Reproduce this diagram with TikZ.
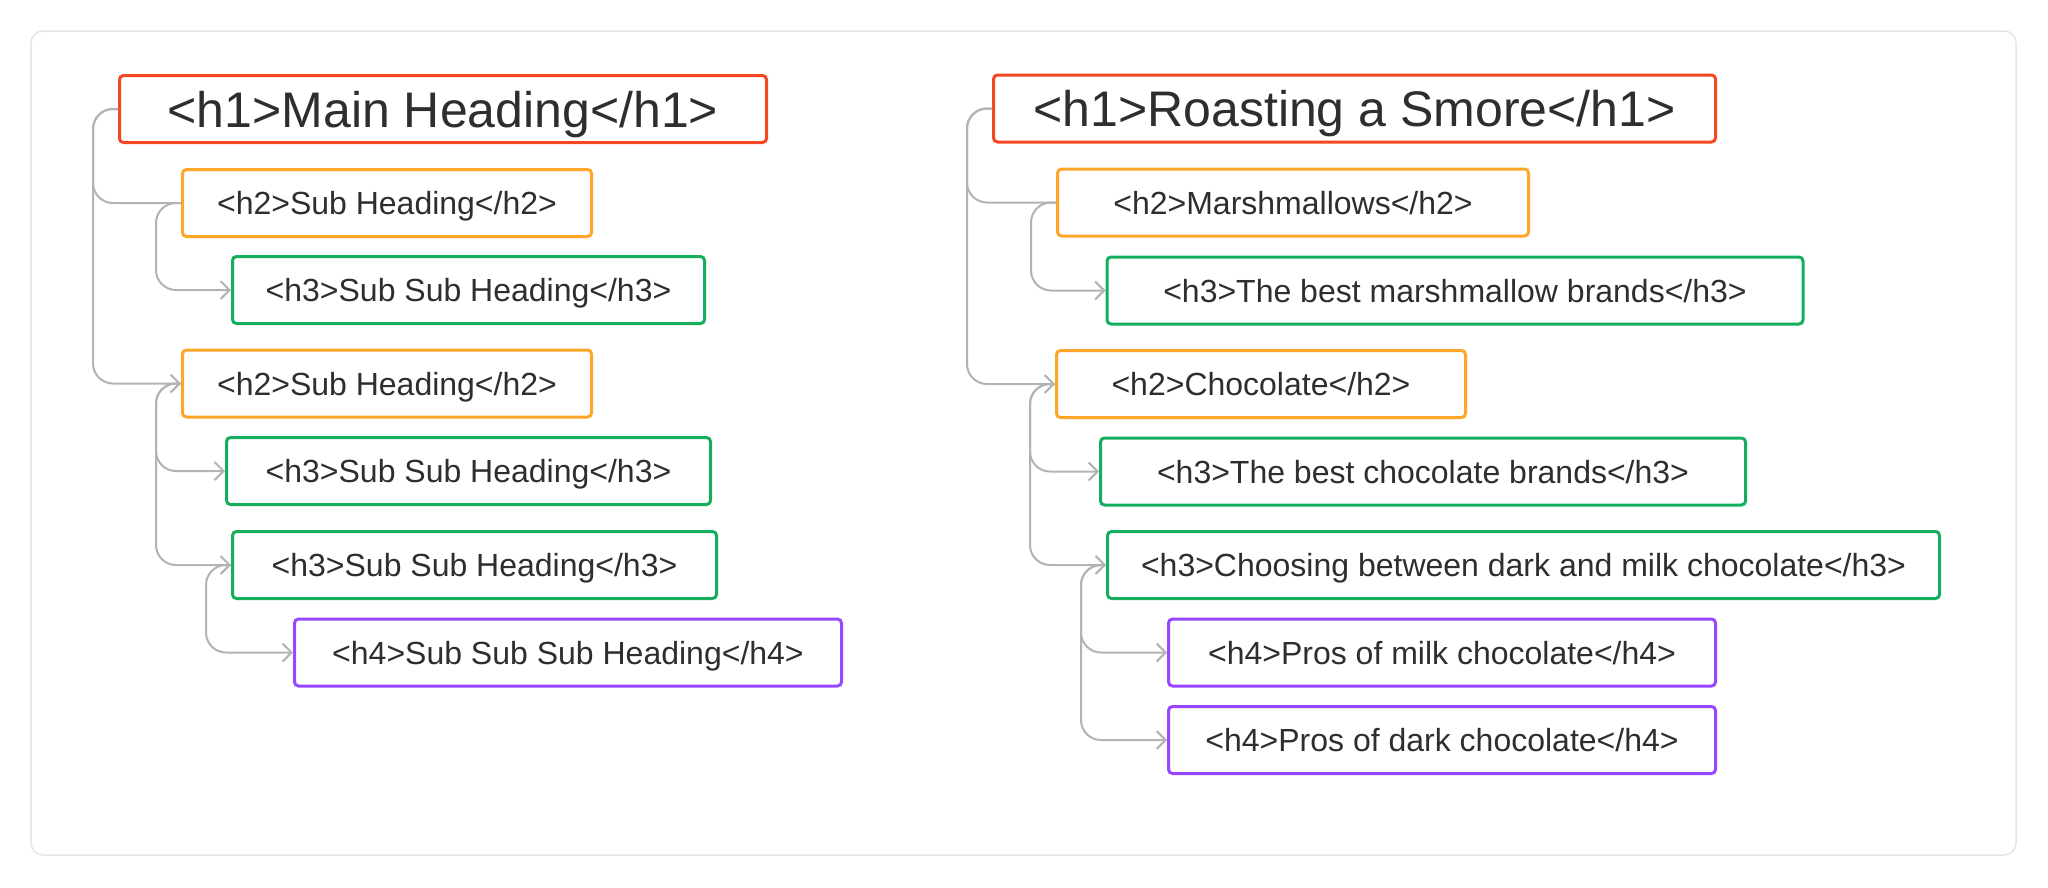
\documentclass[tikz,border=0pt]{standalone}
\usepackage{fontspec}
\setmainfont{Liberation Sans}
\usetikzlibrary{arrows.meta}
\definecolor{hred}{HTML}{F24822}
\definecolor{horange}{HTML}{FFA629}
\definecolor{hgreen}{HTML}{14AE5C}
\definecolor{hpurple}{HTML}{9747FF}
\definecolor{conngray}{HTML}{B3B3B3}
\definecolor{framegray}{HTML}{E6E6E6}
\definecolor{txt}{HTML}{2E2E2E}
\tikzset{
  hbox/.style={draw, line width=3pt, rounded corners=4pt, inner sep=0pt, minimum height=67pt, text=txt, fill=white},
  hone/.style={hbox, draw=hred, font=\fontsize{50}{60}\selectfont, text height=36pt, text depth=0pt},
  hsmall/.style={hbox, font=\fontsize{32}{38}\selectfont, text height=23pt, text depth=0pt},
  htwo/.style={hsmall, draw=horange},
  hthree/.style={hsmall, draw=hgreen},
  hfour/.style={hsmall, draw=hpurple},
  conn/.style={draw=conngray, line width=2pt, rounded corners=20pt},
  conna/.style={conn, -{Straight Barb[length=9pt,width=18pt]}},
}
\begin{document}
\begin{tikzpicture}[x=1pt,y=-1pt]
\useasboundingbox (0,0) rectangle (2048,887);
\fill[white] (0,0) rectangle (2048,887);
\draw[framegray, line width=1.5pt, rounded corners=12pt] (31,31) rectangle (2016,855);

% left column
\node[hone, minimum width=647pt] (L1) at (443,109) {<h1>Main Heading</h1>};
\node[htwo, minimum width=409pt] (L2a) at (387,203) {<h2>Sub Heading</h2>};
\node[hthree, minimum width=472pt] (L3a) at (468.5,290) {<h3>Sub Sub Heading</h3>};
\node[htwo, minimum width=409pt] (L2b) at (387,383.5) {<h2>Sub Heading</h2>};
\node[hthree, minimum width=484pt] (L3b) at (468.5,471) {<h3>Sub Sub Heading</h3>};
\node[hthree, minimum width=484pt] (L3c) at (474.5,565) {<h3>Sub Sub Heading</h3>};
\node[hfour, minimum width=547pt] (L4) at (568,652.5) {<h4>Sub Sub Sub Heading</h4>};

% right column
\node[hone, minimum width=722pt] (R1) at (1354.5,108.5) {<h1>Roasting a Smore</h1>};
\node[htwo, minimum width=471pt] (R2a) at (1293,202.5) {<h2>Marshmallows</h2>};
\node[hthree, minimum width=696pt] (R3a) at (1455,290.5) {<h3>The best marshmallow brands</h3>};
\node[htwo, minimum width=409pt] (R2b) at (1261,384) {<h2>Chocolate</h2>};
\node[hthree, minimum width=645pt] (R3b) at (1423,471.5) {<h3>The best chocolate brands</h3>};
\node[hthree, minimum width=832pt] (R3c) at (1523.5,565) {<h3>Choosing between dark and milk chocolate</h3>};
\node[hfour, minimum width=547pt] (R4a) at (1442,652.5) {<h4>Pros of milk chocolate</h4>};
\node[hfour, minimum width=547pt] (R4b) at (1442,740) {<h4>Pros of dark chocolate</h4>};

% connectors left
\draw[conn] (L1.west) -- ++(-25,0) |- (L2a.west);
\draw[conna] (L1.west) -- ++(-25,0) |- (L2b.west);
\draw[conna] (L2a.west) -- ++(-25,0) |- (L3a.west);
\draw[conna] (L2b.west) -- ++(-25,0) |- (L3b.west);
\draw[conna] (L2b.west) -- ++(-25,0) |- (L3c.west);
\draw[conna] (L3c.west) -- ++(-25,0) |- (L4.west);

% connectors right
\draw[conn] (R1.west) -- ++(-25,0) |- (R2a.west);
\draw[conna] (R1.west) -- ++(-25,0) |- (R2b.west);
\draw[conna] (R2a.west) -- ++(-25,0) |- (R3a.west);
\draw[conna] (R2b.west) -- ++(-25,0) |- (R3b.west);
\draw[conna] (R2b.west) -- ++(-25,0) |- (R3c.west);
\draw[conna] (R3c.west) -- ++(-25,0) |- (R4a.west);
\draw[conna] (R3c.west) -- ++(-25,0) |- (R4b.west);
\end{tikzpicture}
\end{document}
